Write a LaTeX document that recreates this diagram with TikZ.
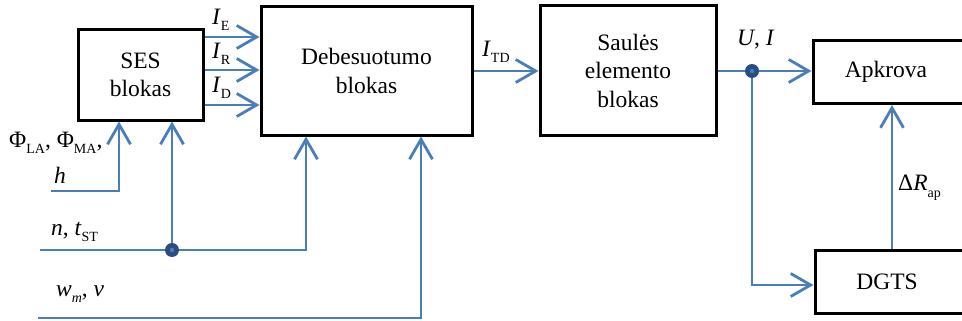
\documentclass[tikz,border=0pt]{standalone}
\usepackage{fontspec}
\setmainfont{Liberation Serif}
\usetikzlibrary{arrows.meta}
\definecolor{lineblue}{HTML}{4A7EBB}
\definecolor{dotblue}{HTML}{2B4C7E}
\newcommand\sbs[1]{\raisebox{-0.28em}{\fontsize{14}{14}\selectfont #1}}
\begin{document}
\begin{tikzpicture}[x=1pt,y=-1pt,
  blk/.style={draw=black,line width=3pt,fill=white,align=center,inner sep=0pt,font=\fontsize{23.5}{28.5}\selectfont},
  arr/.style={draw=lineblue,line width=2.8pt,-{Straight Barb[length=20pt,width=23pt,line width=2.8pt]}},
  lbl/.style={inner sep=0pt,font=\fontsize{23.5}{28}\selectfont},
  jdot/.style={circle,fill=dotblue,minimum size=14pt,inner sep=0pt}]
\useasboundingbox (0,0) rectangle (962,321);
\fill[white] (0,0) rectangle (962,321);
% boxes
\node[blk,minimum width=125pt,minimum height=90pt] (ses) at (140.5,75) {SES\\blokas};
\node[blk,minimum width=211pt,minimum height=128pt] (deb) at (366.5,71) {Debesuotumo\\blokas};
\node[blk,minimum width=176pt,minimum height=129pt] (saul) at (628,70.5) {Saulės\\elemento\\blokas};
\node[blk,minimum width=152pt,minimum height=63pt] (apk) at (889,72) {\hspace*{-6pt}Apkrova};
\node[blk,minimum width=150pt,minimum height=63pt] (dgts) at (890,282) {\hspace*{-6pt}DGTS};
% left free ends
\coordinate (hin) at (51,191);
\coordinate (nin) at (40,250);
\coordinate (win) at (38,318);
\coordinate (j1) at (172,250);
\coordinate (j2) at (752,71);
% SES -> Debesuotumo
\draw[arr] (ses.east |- 0,37) -- (deb.west |- 0,37);
\draw[arr] (ses.east |- 0,70) -- (deb.west |- 0,70);
\draw[arr] (ses.east |- 0,105) -- (deb.west |- 0,105);
% Debesuotumo -> Saules
\draw[arr] (deb.east |- 0,71) -- (saul.west |- 0,71);
% Saules -> Apkrova
\draw[arr] (saul.east |- j2) -- (apk.west |- j2);
\draw[arr] (j2) |- (dgts.west |- 0,285);
\draw[arr] (dgts.north -| 892,0) -- (apk.south -| 892,0);
% inputs
\draw[arr] (hin) -| (ses.south -| 119,0);
\draw[arr] (nin) -| (deb.south -| 306,0);
\draw[arr] (j1) -- (ses.south -| j1);
\draw[arr] (win) -| (deb.south -| 421,0);
% dots
\node[jdot] (d1) at (j1) {};
\fill[lineblue] (j1) circle (2.2pt);
\node[jdot] (d2) at (j2) {};
\fill[lineblue] (j2) circle (2.2pt);
% labels
\node[lbl,anchor=west] (lE) at (212,20) {\textit{I}\sbs{E}};
\node[lbl,anchor=west] (lR) at (212,54) {\textit{I}\sbs{R}};
\node[lbl,anchor=west] (lD) at (212,88) {\textit{I}\sbs{D}};
\node[lbl,anchor=west] (lTD) at (482,52) {\textit{I}\sbs{TD}};
\node[lbl,anchor=west] (lUI) at (737,40) {\textit{U}, \textit{I}};
\node[lbl,anchor=west] (lR2) at (898,188) {Δ\textit{R}\sbs{ap}};
\node[lbl,anchor=west] (lphi) at (9,143) {Φ\sbs{LA}, Φ\sbs{MA},};
\node[lbl,anchor=west] (lh) at (54,175) {\textit{h}};
\node[lbl,anchor=west] (ln) at (51,232) {\textit{n}, \textit{t}\sbs{ST}};
\node[lbl,anchor=west] (lw) at (56,294) {\textit{w}\sbs{\textit{m}}, \textit{v}};
\end{tikzpicture}
\end{document}
